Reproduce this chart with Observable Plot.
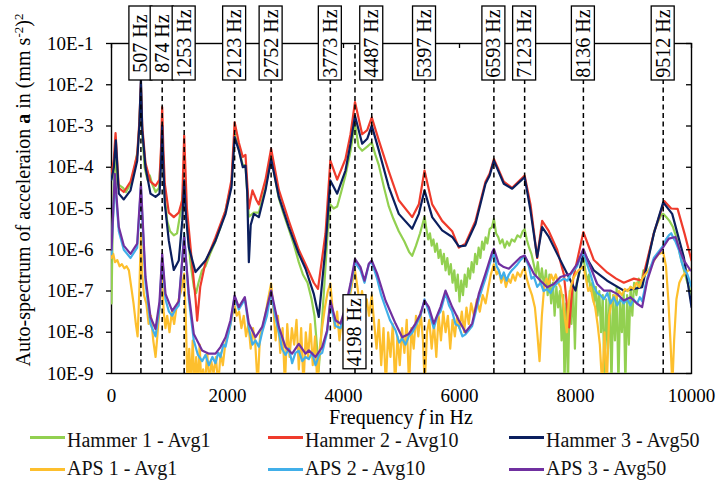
<!DOCTYPE html>
<html>
<head>
<meta charset="utf-8">
<script src="https://cdn.jsdelivr.net/npm/d3@7"></script>
<script src="https://cdn.jsdelivr.net/npm/@observablehq/plot@0.6"></script>
<style>
  html, body { margin: 0; padding: 0; background: white; }
  #chart svg text, #chart svg tspan { font-family: "Liberation Serif", "Times New Roman", Times, serif !important; }
  #legend { position: relative; width: 718px; height: 52px; font-family: "Liberation Serif", "Times New Roman", Times, serif; font-size: 20px; line-height: 20px; color: #111; }
  #legend .sw { position: absolute; height: 3px; width: 35px; }
  #legend .lb { position: absolute; white-space: nowrap; }
</style>
</head>
<body>
<div id="chart"></div>
<div id="legend"></div>
<script>
// ---- DATA: [frequency in Hz, log10 of auto-spectrum (mm s^-2)^2] ----
const hammer1 = [[0,-7.3],[20,-5.5],[40,-4.35],[70,-3.6],[100,-4.4],[150,-4.45],[200,-4.5],[250,-4.6],[330,-4.4],[400,-4.0],[450,-3.6],[480,-3.0],[507,-2.1],[530,-3.2],[570,-4.0],[620,-4.3],[660,-4.2],[700,-4.4],[760,-4.6],[820,-4.5],[874,-3.2],[910,-4.6],[960,-5.3],[1010,-5.55],[1074,-5.65],[1130,-5.6],[1200,-5.0],[1253,-4.3],[1300,-5.3],[1360,-6.3],[1420,-6.9],[1460,-7.05],[1500,-6.8],[1560,-6.5],[1620,-6.4],[1700,-6.1],[1790,-5.8],[1880,-5.45],[1966,-5.05],[2069,-4.4],[2123,-3.2],[2195,-3.55],[2264,-3.95],[2310,-3.95],[2368,-5.2],[2454,-5.1],[2540,-5.1],[2655,-4.5],[2752,-3.75],[2885,-4.75],[2960,-5.1],[3057,-5.5],[3150,-5.9],[3229,-6.3],[3300,-6.6],[3380,-6.8],[3450,-7.2],[3500,-7.6],[3540,-8.3],[3570,-8.95],[3600,-8.4],[3640,-7.5],[3690,-6.4],[3730,-5.5],[3773,-4.9],[3830,-5.0],[3891,-4.95],[3960,-4.6],[4034,-4.2],[4121,-3.6],[4198,-2.95],[4260,-3.5],[4322,-3.6],[4409,-3.5],[4487,-3.4],[4550,-3.7],[4609,-3.95],[4700,-4.5],[4781,-4.95],[4860,-5.25],[4953,-5.55],[5050,-5.8],[5130,-6.05],[5184,-6.15],[5250,-5.9],[5320,-5.6],[5397,-5.2],[5430,-5.5],[5460,-5.75],[5490,-5.6],[5520,-5.9],[5550,-5.75],[5580,-6.05],[5610,-5.85],[5640,-6.2],[5670,-6.0],[5700,-6.35],[5730,-6.1],[5760,-6.5],[5790,-6.2],[5820,-6.6],[5850,-6.35],[5880,-6.8],[5910,-6.5],[5940,-7.0],[5970,-6.6],[6000,-7.25],[6030,-6.75],[6060,-7.1],[6090,-6.6],[6120,-6.9],[6150,-6.45],[6180,-6.7],[6210,-6.3],[6240,-6.55],[6270,-6.1],[6300,-6.35],[6330,-5.95],[6360,-6.2],[6390,-5.8],[6420,-6.0],[6450,-5.7],[6480,-5.85],[6520,-5.5],[6560,-5.45],[6593,-5.25],[6630,-5.6],[6670,-5.7],[6700,-5.85],[6740,-5.75],[6780,-5.95],[6820,-5.8],[6860,-5.9],[6900,-5.75],[6950,-5.8],[7000,-5.65],[7050,-5.7],[7090,-5.55],[7123,-5.5],[7160,-5.75],[7200,-5.95],[7240,-6.1],[7280,-6.35],[7320,-6.6],[7350,-6.3],[7390,-6.8],[7420,-6.45],[7460,-6.9],[7490,-6.5],[7520,-7.1],[7550,-6.6],[7580,-7.3],[7610,-6.8],[7640,-7.6],[7670,-6.9],[7700,-7.4],[7730,-7.0],[7760,-8.2],[7790,-7.1],[7810,-9.3],[7840,-7.3],[7870,-9.3],[7900,-7.0],[7930,-7.8],[7960,-6.9],[7990,-8.4],[8020,-6.8],[8060,-6.6],[8100,-6.35],[8136,-6.2],[8170,-6.5],[8200,-6.8],[8230,-6.6],[8260,-7.0],[8290,-6.8],[8320,-7.3],[8350,-6.9],[8380,-7.6],[8410,-7.0],[8440,-8.0],[8470,-7.1],[8500,-9.3],[8530,-7.2],[8560,-8.4],[8590,-7.0],[8620,-9.3],[8650,-7.1],[8680,-8.2],[8710,-6.9],[8740,-9.3],[8770,-7.2],[8800,-8.0],[8830,-7.0],[8860,-9.3],[8890,-7.1],[8920,-8.3],[8950,-6.9],[8980,-7.6],[9010,-6.8],[9050,-7.1],[9090,-6.7],[9130,-6.9],[9170,-6.5],[9210,-6.55],[9260,-6.15],[9310,-5.85],[9370,-5.5],[9430,-5.3],[9480,-5.15],[9512,-5.13],[9560,-5.2],[9620,-5.3],[9680,-5.45],[9740,-5.7],[9800,-6.1],[9860,-6.45],[9920,-6.75],[10000,-7.1]];

const hammer2 = [[0,-4.2],[40,-3.8],[70,-3.17],[126,-4.5],[212,-4.6],[328,-4.35],[443,-3.7],[480,-2.9],[507,-1.95],[530,-3.0],[586,-3.9],[672,-4.35],[759,-4.45],[828,-4.3],[855,-3.5],[874,-2.54],[895,-3.6],[919,-4.4],[988,-5.1],[1074,-5.21],[1160,-5.1],[1220,-4.8],[1253,-3.23],[1300,-5.0],[1380,-6.2],[1450,-7.2],[1477,-7.72],[1530,-6.9],[1621,-6.3],[1793,-5.7],[1966,-5.05],[2069,-4.3],[2123,-2.91],[2195,-3.4],[2264,-3.75],[2310,-3.7],[2368,-5.0],[2430,-4.56],[2500,-4.8],[2540,-4.9],[2655,-4.3],[2752,-3.55],[2885,-4.55],[3057,-5.3],[3229,-6.0],[3345,-6.35],[3488,-6.8],[3560,-6.95],[3690,-5.6],[3773,-3.84],[3891,-4.3],[4034,-3.8],[4121,-3.2],[4198,-2.42],[4322,-3.2],[4409,-3.1],[4487,-2.79],[4609,-3.35],[4781,-4.1],[4953,-4.8],[5184,-5.21],[5299,-4.9],[5397,-4.08],[5529,-4.9],[5701,-5.3],[5874,-5.55],[5988,-5.95],[6103,-5.85],[6276,-5.3],[6448,-4.35],[6520,-4.15],[6593,-3.8],[6764,-4.35],[6908,-4.5],[7123,-4.2],[7224,-4.9],[7339,-6.2],[7425,-5.3],[7540,-5.55],[7684,-6.0],[7800,-6.6],[7890,-7.88],[7960,-6.7],[8136,-5.57],[8316,-6.25],[8546,-6.55],[8700,-6.7],[8833,-6.8],[9005,-6.7],[9149,-6.75],[9350,-5.6],[9530,-4.82],[9650,-5.0],[9760,-5.01],[9880,-5.61],[10000,-6.26]];

const hammer3 = [[0,-4.3],[40,-4.0],[75,-3.35],[126,-4.64],[212,-4.78],[328,-4.56],[443,-3.84],[480,-3.0],[507,-1.85],[530,-3.1],[586,-4.0],[672,-4.64],[759,-4.72],[828,-4.64],[855,-3.9],[874,-2.99],[895,-4.0],[919,-4.88],[988,-5.78],[1074,-6.49],[1160,-6.26],[1220,-5.3],[1253,-4.32],[1285,-5.2],[1333,-5.94],[1448,-6.54],[1621,-6.26],[1793,-5.78],[1966,-5.13],[2069,-4.48],[2123,-3.27],[2195,-3.59],[2264,-4.0],[2310,-3.96],[2340,-4.6],[2368,-6.3],[2400,-5.4],[2454,-5.13],[2540,-5.21],[2655,-4.56],[2752,-3.8],[2885,-4.72],[3057,-5.45],[3229,-6.1],[3345,-6.46],[3488,-7.07],[3574,-7.63],[3690,-5.94],[3773,-4.32],[3891,-4.64],[4034,-4.08],[4121,-3.43],[4198,-2.75],[4322,-3.43],[4409,-3.31],[4487,-2.99],[4609,-3.59],[4781,-4.48],[4953,-5.13],[5184,-5.49],[5299,-5.13],[5397,-4.56],[5529,-5.21],[5701,-5.53],[5874,-5.69],[5988,-5.92],[6103,-5.9],[6276,-5.37],[6448,-4.4],[6520,-4.2],[6593,-3.84],[6764,-4.4],[6908,-4.52],[7123,-4.24],[7224,-5.05],[7339,-6.18],[7425,-5.45],[7540,-5.69],[7684,-6.1],[7856,-6.58],[8000,-6.99],[8136,-6.06],[8316,-6.5],[8546,-6.75],[8833,-6.99],[9005,-6.95],[9149,-6.91],[9350,-5.61],[9512,-4.85],[9667,-5.13],[9868,-6.18],[10000,-7.39]];

const aps1 = [[0,-6.2],[30,-6.1],[60,-6.3],[100,-6.25],[140,-6.4],[180,-6.35],[220,-6.45],[260,-6.4],[300,-6.5],[340,-6.9],[380,-7.3],[420,-7.8],[450,-8.1],[480,-7.0],[507,-5.6],[530,-6.6],[560,-7.1],[600,-7.3],[640,-7.8],[680,-7.6],[720,-8.2],[760,-8.6],[790,-8.1],[830,-7.4],[874,-6.7],[900,-7.5],[930,-7.9],[960,-7.6],[1000,-8.0],[1040,-7.5],[1080,-7.8],[1120,-7.4],[1160,-7.2],[1200,-7.0],[1253,-6.58],[1280,-7.6],[1310,-9.3],[1340,-8.4],[1370,-9.3],[1400,-8.2],[1430,-9.3],[1460,-8.6],[1490,-9.3],[1520,-8.3],[1550,-9.3],[1580,-8.9],[1610,-9.3],[1650,-8.5],[1690,-9.3],[1720,-8.7],[1760,-9.0],[1800,-8.6],[1840,-9.3],[1880,-8.5],[1920,-8.8],[1960,-8.3],[2000,-8.1],[2040,-7.9],[2080,-7.6],[2123,-7.35],[2160,-7.6],[2200,-7.5],[2240,-7.9],[2280,-7.6],[2320,-8.1],[2360,-7.8],[2400,-8.4],[2440,-7.9],[2480,-8.3],[2520,-9.3],[2560,-8.1],[2600,-7.9],[2650,-7.6],[2700,-7.2],[2752,-6.82],[2790,-7.4],[2830,-8.2],[2870,-7.6],[2910,-8.5],[2950,-7.9],[2990,-9.3],[3030,-7.8],[3070,-8.6],[3110,-7.9],[3150,-8.3],[3190,-7.7],[3230,-8.9],[3270,-7.9],[3310,-9.3],[3350,-8.0],[3390,-8.6],[3430,-7.8],[3470,-8.8],[3510,-8.1],[3550,-9.3],[3590,-8.4],[3630,-7.9],[3680,-7.4],[3730,-7.0],[3773,-6.82],[3810,-7.4],[3850,-7.9],[3890,-7.5],[3930,-8.2],[3970,-7.7],[4010,-8.1],[4050,-7.6],[4100,-7.2],[4150,-6.8],[4198,-6.5],[4240,-6.9],[4280,-7.3],[4320,-7.0],[4360,-7.5],[4400,-7.2],[4440,-7.6],[4487,-7.1],[4530,-7.8],[4570,-8.4],[4610,-7.7],[4650,-8.8],[4690,-7.9],[4730,-9.3],[4770,-8.0],[4810,-8.6],[4850,-7.8],[4890,-9.3],[4930,-8.1],[4970,-8.8],[5010,-7.9],[5050,-8.5],[5090,-7.7],[5130,-9.3],[5170,-7.9],[5210,-8.4],[5250,-7.6],[5290,-8.1],[5330,-7.5],[5370,-8.2],[5400,-9.3],[5440,-8.0],[5480,-7.7],[5520,-8.4],[5560,-7.8],[5600,-8.6],[5640,-7.6],[5680,-8.2],[5720,-7.5],[5760,-8.0],[5800,-7.6],[5840,-8.4],[5880,-7.7],[5920,-8.1],[5960,-7.6],[6000,-7.9],[6040,-7.5],[6080,-8.0],[6120,-7.4],[6160,-7.8],[6200,-7.3],[6250,-7.6],[6300,-7.2],[6350,-7.5],[6400,-7.1],[6450,-7.3],[6500,-6.9],[6540,-6.6],[6593,-6.35],[6640,-6.6],[6680,-6.5],[6720,-6.8],[6760,-6.6],[6800,-6.9],[6840,-6.7],[6880,-6.8],[6920,-6.6],[6960,-6.75],[7000,-6.55],[7050,-6.65],[7090,-6.5],[7123,-6.45],[7160,-6.7],[7200,-6.9],[7250,-7.1],[7300,-7.4],[7340,-8.0],[7380,-8.7],[7420,-7.6],[7460,-6.9],[7500,-6.7],[7540,-6.85],[7580,-6.6],[7620,-6.75],[7660,-6.6],[7700,-6.8],[7740,-6.9],[7780,-7.2],[7820,-7.7],[7850,-8.0],[7880,-7.3],[7920,-6.9],[7960,-6.7],[8000,-6.6],[8050,-6.5],[8100,-6.45],[8136,-6.4],[8180,-6.7],[8220,-7.0],[8260,-6.9],[8300,-7.2],[8340,-7.4],[8380,-7.8],[8420,-8.3],[8460,-9.3],[8500,-8.0],[8540,-9.3],[8580,-7.6],[8620,-7.3],[8660,-7.1],[8700,-7.2],[8750,-7.0],[8800,-7.1],[8850,-6.95],[8900,-7.0],[8950,-6.9],[9000,-6.95],[9050,-6.8],[9100,-6.9],[9150,-6.7],[9200,-6.6],[9260,-6.5],[9320,-6.35],[9380,-6.2],[9440,-6.1],[9512,-6.06],[9560,-6.4],[9600,-7.2],[9640,-8.3],[9670,-9.3],[9700,-8.2],[9740,-7.2],[9790,-6.8],[9840,-6.65],[9900,-6.55],[9950,-6.5],[10000,-6.45]];

const aps2 = [[0,-6.1],[57,-4.3],[126,-5.55],[212,-6.0],[328,-6.2],[443,-5.95],[507,-4.5],[586,-6.8],[672,-7.8],[759,-8.1],[828,-7.4],[874,-6.2],[931,-7.2],[990,-7.5],[1046,-7.6],[1100,-7.45],[1160,-7.35],[1253,-5.6],[1333,-7.2],[1419,-8.2],[1490,-8.55],[1563,-8.7],[1620,-8.55],[1678,-8.8],[1740,-8.6],[1793,-8.75],[1840,-8.5],[1879,-8.6],[1930,-8.3],[1966,-8.35],[2052,-7.8],[2123,-7.15],[2195,-7.45],[2299,-7.2],[2368,-7.9],[2430,-8.3],[2483,-8.2],[2540,-8.35],[2598,-8.0],[2680,-7.6],[2752,-7.0],[2820,-7.6],[2885,-8.0],[2940,-8.4],[3000,-8.55],[3060,-8.4],[3115,-8.75],[3170,-8.5],[3229,-8.45],[3290,-8.7],[3345,-8.6],[3402,-8.65],[3460,-8.5],[3517,-8.8],[3580,-8.55],[3632,-8.5],[3718,-8.0],[3773,-7.3],[3862,-7.85],[3948,-7.9],[4034,-7.5],[4121,-6.9],[4198,-6.3],[4293,-6.5],[4362,-6.8],[4437,-6.35],[4487,-6.3],[4580,-6.7],[4650,-7.1],[4724,-7.4],[4800,-7.7],[4897,-7.95],[4960,-8.25],[5012,-8.15],[5070,-8.3],[5126,-8.1],[5190,-8.0],[5241,-7.85],[5328,-7.6],[5397,-7.2],[5471,-7.5],[5557,-7.9],[5620,-7.6],[5672,-7.5],[5759,-7.05],[5820,-7.35],[5874,-7.5],[5930,-7.8],[5988,-7.85],[6050,-8.1],[6103,-8.05],[6160,-7.95],[6218,-7.85],[6280,-7.5],[6333,-7.2],[6400,-6.9],[6448,-6.7],[6520,-6.35],[6593,-6.05],[6640,-6.4],[6678,-6.5],[6720,-6.7],[6764,-6.55],[6810,-6.75],[6851,-6.6],[6900,-6.5],[6937,-6.45],[7000,-6.35],[7052,-6.25],[7123,-6.15],[7195,-6.4],[7240,-6.7],[7282,-6.65],[7340,-6.9],[7397,-6.8],[7450,-7.0],[7511,-6.95],[7570,-7.05],[7626,-6.9],[7690,-6.8],[7741,-6.75],[7800,-6.7],[7860,-6.75],[7914,-6.6],[7970,-6.5],[8029,-6.4],[8080,-6.2],[8136,-6.05],[8200,-6.35],[8259,-6.6],[8320,-6.9],[8374,-7.05],[8430,-7.1],[8488,-7.2],[8550,-7.05],[8603,-7.3],[8660,-7.15],[8718,-7.35],[8780,-7.2],[8833,-7.3],[8890,-7.2],[8948,-7.35],[9000,-7.2],[9063,-7.3],[9110,-7.15],[9149,-7.25],[9200,-6.9],[9236,-6.7],[9300,-6.4],[9350,-6.2],[9430,-6.05],[9512,-5.9],[9560,-5.75],[9609,-5.65],[9650,-5.6],[9700,-5.75],[9724,-5.8],[9781,-6.0],[9830,-6.3],[9868,-6.45],[9930,-6.6],[10000,-6.9]];

const aps3 = [[0,-6.0],[57,-4.16],[126,-5.45],[212,-5.9],[328,-6.1],[443,-5.85],[507,-4.4],[586,-6.66],[672,-7.63],[759,-7.92],[828,-7.25],[874,-6.1],[931,-7.07],[1046,-7.48],[1160,-7.25],[1253,-5.69],[1333,-7.07],[1419,-8.04],[1563,-8.44],[1678,-8.52],[1793,-8.52],[1879,-8.36],[1966,-8.12],[2052,-7.71],[2123,-7.11],[2195,-7.39],[2299,-7.15],[2368,-7.79],[2483,-8.12],[2598,-7.87],[2752,-6.99],[2885,-7.87],[3000,-8.36],[3115,-8.52],[3229,-8.28],[3345,-8.52],[3402,-8.44],[3517,-8.6],[3632,-8.36],[3718,-7.95],[3773,-7.23],[3862,-7.71],[3948,-7.79],[4034,-7.39],[4121,-6.82],[4198,-6.22],[4293,-6.42],[4362,-6.75],[4437,-6.34],[4487,-6.26],[4580,-6.58],[4724,-7.23],[4897,-7.79],[5012,-8.12],[5126,-8.04],[5241,-7.79],[5328,-7.55],[5397,-7.23],[5471,-7.39],[5557,-7.79],[5672,-7.39],[5759,-6.99],[5874,-7.39],[5988,-7.71],[6103,-8.0],[6218,-7.79],[6333,-7.07],[6448,-6.58],[6563,-6.06],[6593,-5.98],[6678,-6.34],[6764,-6.42],[6851,-6.46],[6937,-6.34],[7052,-6.18],[7123,-6.14],[7195,-6.34],[7282,-6.58],[7397,-6.75],[7511,-6.91],[7626,-6.83],[7741,-6.66],[7914,-6.58],[8029,-6.34],[8136,-5.98],[8259,-6.42],[8374,-6.83],[8488,-6.99],[8603,-6.99],[8718,-7.07],[8833,-7.23],[8948,-7.15],[9063,-7.31],[9149,-7.39],[9236,-6.75],[9350,-6.26],[9512,-5.94],[9609,-5.73],[9724,-5.69],[9781,-5.94],[9868,-6.26],[9983,-6.5]];

const seriesNames = ["Hammer 1 - Avg1", "Hammer 2 - Avg10", "Hammer 3 - Avg50", "APS 1 - Avg1", "APS 2 - Avg10", "APS 3 - Avg50"];
const seriesData = [hammer1, hammer2, hammer3, aps1, aps2, aps3];
const seriesColors = ["#92d050", "#ef3b2c", "#0b1f5e", "#fdbf2d", "#41afe9", "#7030a0"];
const drawOrder = [0, 1, 2, 3, 4, 5];

const peakFreqs = [507, 874, 1253, 2123, 2752, 3773, 4198, 4487, 5397, 6593, 7123, 8136, 9512];
const bottomLabelFreqs = [4198];
const yTicks = [1e-9, 1e-8, 1e-7, 1e-6, 1e-5, 1e-4, 1e-3, 1e-2, 1e-1];
const xTicks = [0, 2000, 4000, 6000, 8000, 10000];
const xDomain = [0, 10000];
const yDomain = [1e-9, 1e-1];
const bottomLabelLevel = 1e-8;

// ---- build table ----
const rows = [];
drawOrder.forEach(k => {
  seriesData[k].forEach(([f, lg]) => rows.push({series: seriesNames[k], f, v: Math.pow(10, lg)}));
});
const labels = peakFreqs.map(f => ({f, bottom: bottomLabelFreqs.includes(f)}));
const labelY = d => d.bottom ? bottomLabelLevel : yDomain[1];

const font = "\"Liberation Serif\", \"Times New Roman\", Times, serif";

const plot = Plot.plot({
  width: 718, height: 430,
  marginLeft: 111, marginRight: 27, marginTop: 43, marginBottom: 57,
  style: {fontFamily: font, fontSize: "19px", background: "white", color: "black"},
  x: {domain: xDomain},
  y: {type: "log", domain: yDomain},
  color: {domain: seriesNames, range: seriesColors},
  marks: [
    Plot.frame({stroke: "black", strokeWidth: 1.4}),
    Plot.line(rows, {x: "f", y: "v", z: "series", stroke: "series", strokeWidth: 2.2, clip: true, strokeLinejoin: "round"}),
    Plot.ruleX(peakFreqs, {x: d => d, y1: yDomain[0], y2: yDomain[1], stroke: "black", strokeWidth: 1.5, strokeDasharray: "5,3.5"}),
    Plot.ruleY(yTicks, {y: d => d, x1: xDomain[1], x2: xDomain[1], insetLeft: -5, stroke: "black", strokeWidth: 1.3}),
    Plot.ruleX(xTicks, {x: d => d, y1: yDomain[1], y2: yDomain[1], insetBottom: -5, stroke: "black", strokeWidth: 1.3}),
    Plot.rect(labels, {x1: "f", x2: "f", y1: labelY, y2: labelY, insetLeft: -11.5, insetRight: -11.5, insetTop: -37, insetBottom: -37, fill: "white", stroke: "black", strokeWidth: 1.3}),
    Plot.text(labels, {x: "f", y: labelY, text: d => `${d.f} Hz`, rotate: -90, fontSize: 20, textAnchor: "middle", lineAnchor: "middle", fill: "black"}),
    Plot.axisY({ticks: yTicks, tickFormat: d => "10E" + Math.round(Math.log10(d)), tickSize: 5, tickPadding: 13, label: null, stroke: "black", strokeWidth: 1.3}),
    Plot.axisX({ticks: xTicks, tickFormat: d => String(d), tickSize: 0, tickPadding: 15, label: null})
  ]
});

document.getElementById("chart").appendChild(plot);

const svg = d3.select(plot);
svg.selectAll("text").style("font-family", font);

// axis titles (real text)
const yt = svg.append("text")
  .attr("transform", "translate(30,190) rotate(-90)")
  .attr("text-anchor", "middle")
  .style("font-family", font).style("font-size", "20px").attr("fill", "black");
yt.append("tspan").text("Auto-spectrum of acceleraion ");
yt.append("tspan").attr("font-weight", "bold").text("a");
yt.append("tspan").text(" in (mm s");
yt.append("tspan").attr("dy", -7).style("font-size", "13px").text("-2");
yt.append("tspan").attr("dy", 7).text(")");
yt.append("tspan").attr("dy", -7).style("font-size", "13px").text("2");

const xt = svg.append("text")
  .attr("x", 401).attr("y", 424)
  .attr("text-anchor", "middle")
  .style("font-family", font).style("font-size", "20px").attr("fill", "black");
xt.append("tspan").text("Frequency ");
xt.append("tspan").attr("font-style", "italic").text("f");
xt.append("tspan").text(" in Hz");

// legend
const legend = document.getElementById("legend");
const colX = [30, 268, 509];
const rowTop = [0, 28];
const rowLine = [6, 38];
seriesNames.forEach((name, i) => {
  const c = i % 3, r = Math.floor(i / 3);
  const sw = document.createElement("div");
  sw.className = "sw";
  sw.style.left = colX[c] + "px";
  sw.style.top = rowLine[r] + "px";
  sw.style.background = seriesColors[i];
  legend.appendChild(sw);
  const lb = document.createElement("div");
  lb.className = "lb";
  lb.style.left = (colX[c] + 37) + "px";
  lb.style.top = rowTop[r] + "px";
  lb.textContent = name;
  legend.appendChild(lb);
});
</script>
</body>
</html>
